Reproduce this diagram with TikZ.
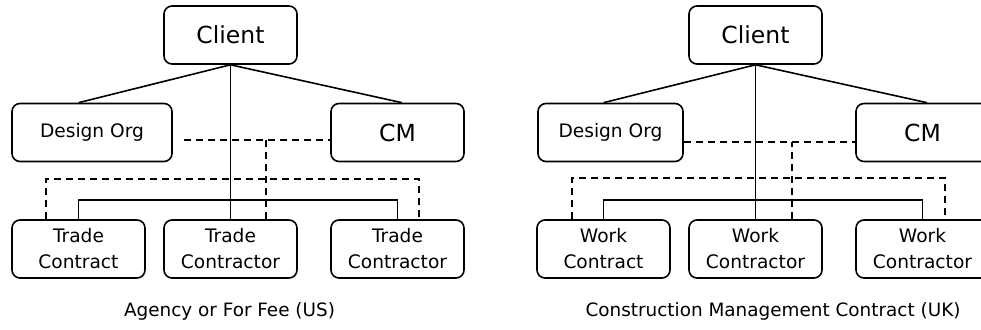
\documentclass[tikz,border=0pt]{standalone}
\usepackage{fontspec}
\setmainfont{DejaVu Sans}
\usetikzlibrary{calc}
\tikzset{
  box/.style={draw, line width=1.6pt, rounded corners=8pt, inner sep=0pt, minimum height=58pt, align=center},
  big/.style={font=\fontsize{23.5}{26}\selectfont},
  small/.style={font=\fontsize{18.6}{26}\selectfont},
  con/.style={line width=1.6pt},
  dsh/.style={line width=1.6pt, dash pattern=on 7pt off 5pt},
  captxt/.style={font=\fontsize{18.4}{22}\selectfont}
}
\begin{document}
\begin{tikzpicture}[x=1pt,y=-1pt]
\useasboundingbox (0,0) rectangle (981,329);
% ---------- left diagram
\node[box,big,minimum width=133pt] (c1) at (230.5,35) {Client};
\node[box,small,minimum width=160pt] (d1) at (92,132.5) {Design Org};
\node[box,big,minimum width=133pt] (m1) at (397.5,132.5) {CM};
\node[box,small,minimum width=133pt] (a1) at (78.5,249) {Trade\\Contract};
\node[box,small,minimum width=133pt] (b1) at (230.5,249) {Trade\\Contractor};
\node[box,small,minimum width=133pt] (e1) at (397.5,249) {Trade\\Contractor};
\node[captxt] (t1) at (229.5,311) {Agency or For Fee (US)};
\draw[con] (c1.south) -- (a1 |- d1.north);
\draw[con] (c1.south) -- ([xshift=4.5pt]m1.north);
\draw[con] (c1.south) -- (b1.north);
\draw[con] (a1.north) -- ++(0,-19) -| (e1.north);
\coordinate (p1) at ($(d1.east)+(11,7.5)$);
\draw[dsh] (p1) -- (m1.west |- p1);
\coordinate (q1) at ($(b1.north)+(35.5,0)$);
\draw[dsh] (q1) -- (q1 |- p1);
\draw[dsh] ($(a1.north)+(-32.5,0)$) -- ++(0,-40) -| ($(e1.north)+(21.5,0)$);
% ---------- right diagram
\node[box,big,minimum width=133pt] (c2) at (755.5,35) {Client};
\node[box,small,minimum width=145pt] (d2) at (610.5,132.5) {Design Org};
\node[box,big,minimum width=133pt] (m2) at (922.5,132.5) {CM};
\node[box,small,minimum width=133pt] (a2) at (603.5,249) {Work\\Contract};
\node[box,small,minimum width=133pt] (b2) at (755.5,249) {Work\\Contractor};
\node[box,small,minimum width=133pt] (e2) at (922.5,249) {Work\\Contractor};
\node[captxt] (t2) at (773,311) {Construction Management Contract (UK)};
\draw[con] (c2.south) -- (a2 |- d2.north);
\draw[con] (c2.south) -- ([xshift=4.5pt]m2.north);
\draw[con] (c2.south) -- (b2.north);
\draw[con] (a2.north) -- ++(0,-19) -| (e2.north);
\coordinate (p2) at ($(d2.east)+(0,9.5)$);
\draw[dsh] (p2) -- (m2.west |- p2);
\coordinate (q2) at ($(b2.north)+(36.5,0)$);
\draw[dsh] (q2) -- (q2 |- p2);
\draw[dsh] ($(a2.north)+(-31.5,0)$) -- ++(0,-41) -| ($(e2.north)+(22.5,0)$);
\end{tikzpicture}
\end{document}
